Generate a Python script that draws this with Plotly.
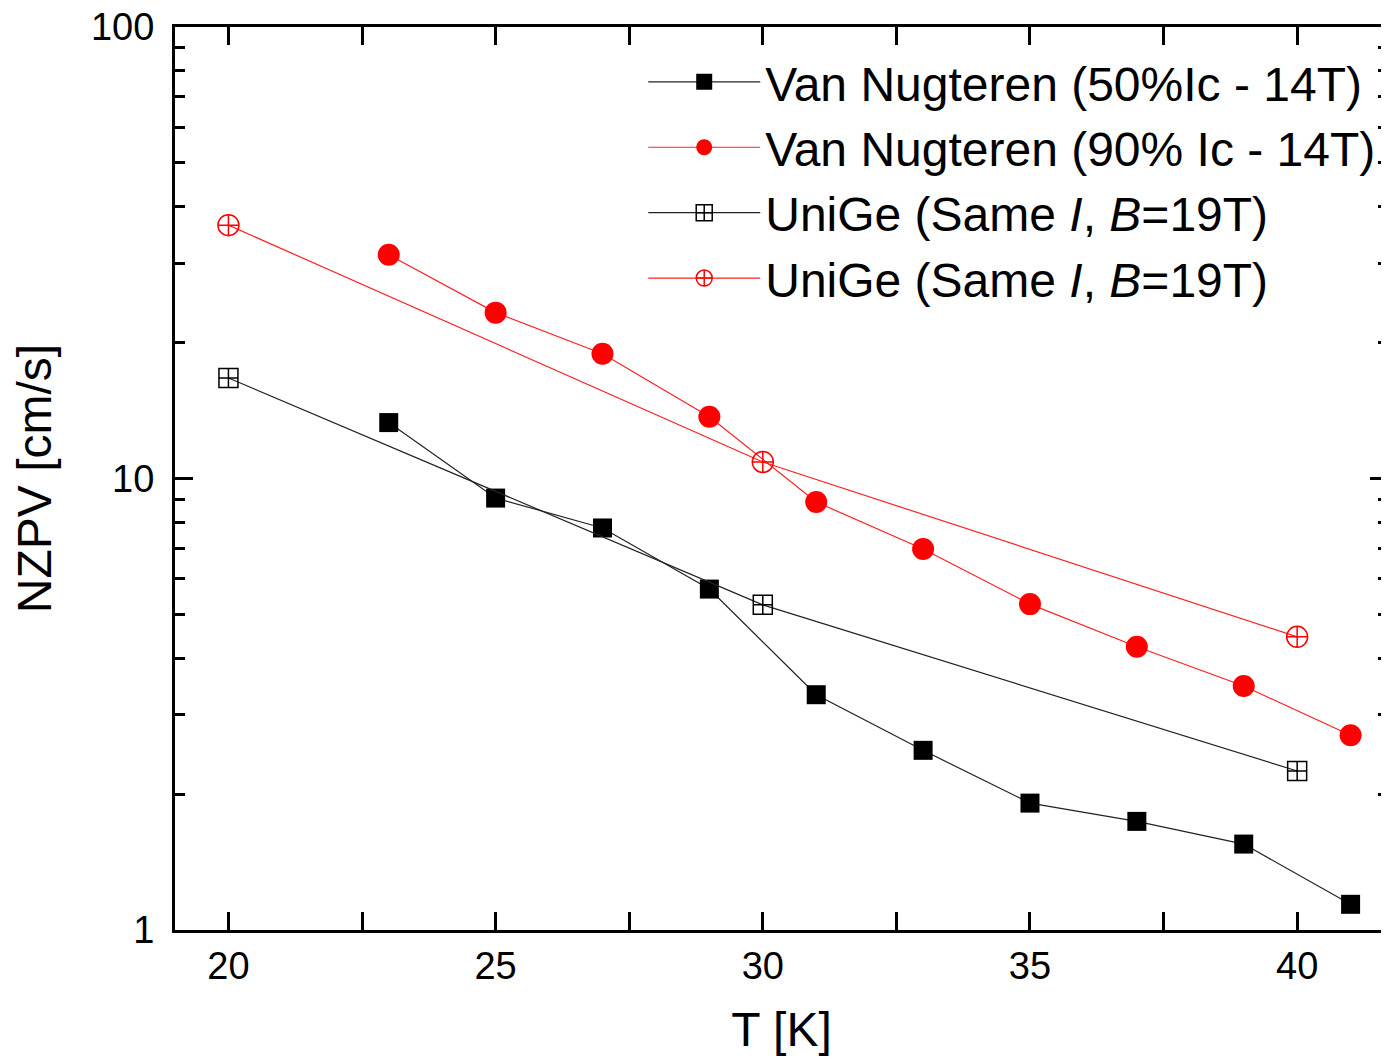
import plotly.graph_objects as go

# Data
T_vn = [23, 25, 27, 29, 31, 33, 35, 37, 39, 41]
nzpv_vn50 = [13.3, 9.05, 7.77, 5.69, 3.32, 2.50, 1.91, 1.74, 1.55, 1.14]
nzpv_vn90 = [31.3, 23.3, 18.9, 13.7, 8.87, 6.98, 5.27, 4.24, 3.47, 2.70]
T_unige = [20, 30, 40]
nzpv_unige_black = [16.7, 5.25, 2.25]
nzpv_unige_red = [36.4, 10.88, 4.46]

names = [
    "Van Nugteren (50%Ic - 14T)",
    "Van Nugteren (90% Ic - 14T)",
    "UniGe (Same <i>I</i>, <i>B</i>=19T)",
    "UniGe (Same <i>I</i>, <i>B</i>=19T)",
]

x_ticks = [20, 25, 30, 35, 40]
y_major_ticks = [1, 10, 100]
y_major_text = ["1", "10", "100"]
y_minor_ticks = [2, 3, 4, 5, 6, 7, 8, 9, 20, 30, 40, 50, 60, 70, 80, 90]

FONT = "Liberation Sans, Arial, sans-serif"

fig = go.Figure()
fig.add_trace(go.Scatter(
    x=T_vn, y=nzpv_vn50, mode="lines+markers", name=names[0],
    line=dict(color="#222222", width=1.2),
    marker=dict(symbol="square", size=19, color="black"),
))
fig.add_trace(go.Scatter(
    x=T_vn, y=nzpv_vn90, mode="lines+markers", name=names[1],
    line=dict(color="#ff2020", width=1.2),
    marker=dict(symbol="circle", size=22, color="#ff0000"),
))
fig.add_trace(go.Scatter(
    x=T_unige, y=nzpv_unige_black, mode="lines+markers", name=names[2],
    line=dict(color="#222222", width=1.2),
    marker=dict(symbol="square-cross-open", size=19, color="black",
                line=dict(width=1.5, color="black")),
))
fig.add_trace(go.Scatter(
    x=T_unige, y=nzpv_unige_red, mode="lines+markers", name=names[3],
    line=dict(color="#ff2020", width=1.2),
    marker=dict(symbol="circle-cross-open", size=21, color="#ff0000",
                line=dict(width=1.5, color="#ff0000")),
))
# invisible carrier trace so the minor-tick overlay axis is drawn
fig.add_trace(go.Scatter(
    x=T_unige, y=nzpv_unige_black, yaxis="y2", mode="markers",
    marker=dict(opacity=0), showlegend=False, hoverinfo="skip",
))

fig.update_layout(
    width=1381, height=1048,
    margin=dict(l=167, r=1, t=19, b=126),
    paper_bgcolor="white", plot_bgcolor="white",
    font=dict(family=FONT, size=38, color="black"),
    showlegend=True,
    legend=dict(
        x=0.386, y=0.981, xanchor="left", yanchor="top",
        bgcolor="rgba(0,0,0,0)", font=dict(size=48, family=FONT),
        itemwidth=112, tracegroupgap=0,
    ),
    yaxis2=dict(
        type="log", range=[0, 2], overlaying="y", side="left",
        tickmode="array", tickvals=y_minor_ticks, showticklabels=False,
        ticks="inside", ticklen=10, tickwidth=2.5, tickcolor="black",
        showline=False, showgrid=False, zeroline=False, mirror="ticks",
        automargin=False,
    ),
)
fig.update_xaxes(
    range=[19, 41.7], tickvals=x_ticks, automargin=False,
    ticks="inside", ticklen=18, tickwidth=2.5, tickcolor="black",
    showline=True, linecolor="black", linewidth=3, mirror="ticks",
    showgrid=False, zeroline=False, ticklabeloverflow="allow",
    minor=dict(dtick=2.5, tick0=20, ticks="inside", ticklen=18, tickwidth=2.5,
               tickcolor="black", showgrid=False),
    title=dict(text="T [K]", font=dict(size=48, family=FONT), standoff=52),
    tickfont=dict(size=38, family=FONT),
)
fig.update_layout(yaxis=dict(
    type="log", range=[0, 2], tickmode="array", tickvals=y_major_ticks,
    ticktext=y_major_text, automargin=False, ticklabeloverflow="allow",
    ticks="inside", ticklen=18, tickwidth=2.5, tickcolor="black",
    showline=True, linecolor="black", linewidth=3, mirror="ticks",
    showgrid=False, zeroline=False, ticklabelstandoff=10,
    title=dict(text="NZPV [cm/s]", font=dict(size=48, family=FONT), standoff=38),
    tickfont=dict(size=38, family=FONT),
))

fig.write_html("out.html")
